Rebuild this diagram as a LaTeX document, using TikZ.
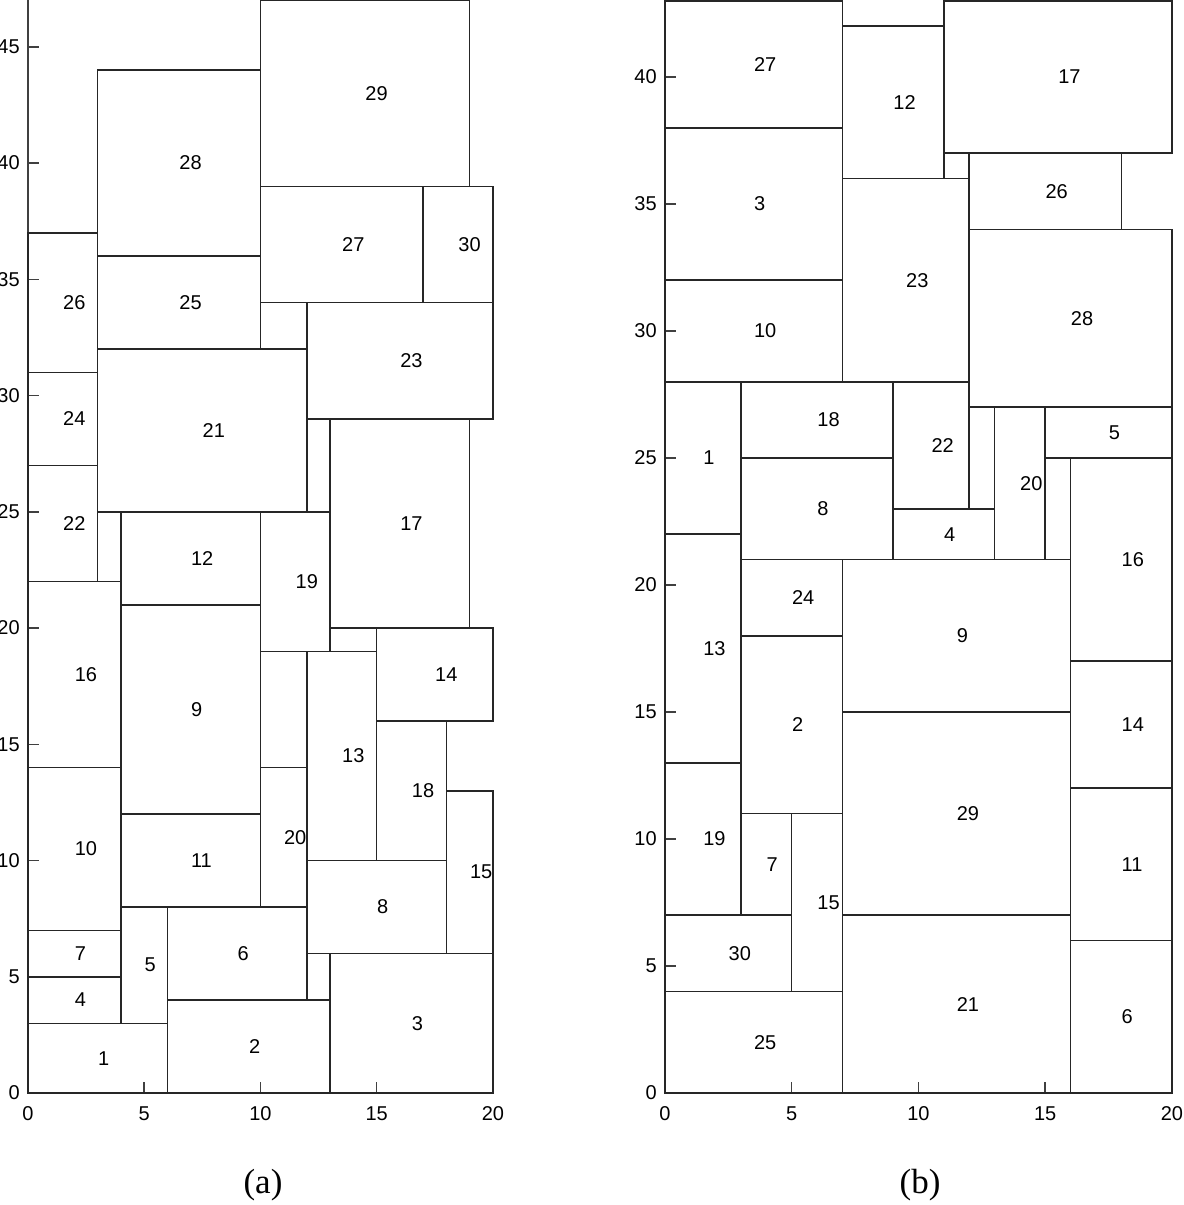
\documentclass[tikz,border=0pt]{standalone}
\usepackage{fontspec}
\setmainfont{Liberation Serif}
\setsansfont{Liberation Sans}
\begin{document}
\begin{tikzpicture}[x=0.6pt,y=0.6pt,
  box/.style={draw=black!85, line width=0.9pt},
  axisline/.style={draw=black!75, line width=0.9pt},
  lab/.style={anchor=west, inner sep=0pt, font=\sffamily\fontsize{12pt}{14pt}\selectfont},
  ytl/.style={anchor=east, inner sep=0pt, font=\sffamily\fontsize{12pt}{14pt}\selectfont},
  xtl/.style={anchor=north, inner sep=0pt, font=\sffamily\fontsize{12pt}{14pt}\selectfont},
  captext/.style={inner sep=0pt, font=\rmfamily\fontsize{21pt}{24pt}\selectfont}]
\useasboundingbox (0,0) rectangle (1183,1205);
% ---------------- panel (a)
\begin{scope}[shift={(16.8pt,67.2pt)}, x=13.95pt, y=13.95pt]
  \draw[axisline] (0,47) -- (0,0) -- (20,0);
  \foreach \v in {0,5,...,45} {
    \draw[axisline] (0,\v) -- ++(6.6pt,0);
    \node[ytl] (ay\v) at ([xshift=-4.8pt]0,\v) {\v};
  }
  \foreach \v in {0,5,...,20} {
    \draw[axisline] (\v,0) -- ++(0,6.6pt);
    \node[xtl] (ax\v) at ([yshift=-7.8pt]\v,0) {\v};
  }
  \foreach \xa/\ya/\xb/\yb/\n in {
    0/0/6/3/1, 6/0/13/4/2, 13/0/20/6/3, 0/3/4/5/4, 4/3/6/8/5, 6/4/12/8/6,
    0/5/4/7/7, 12/6/18/10/8, 4/12/10/21/9, 0/7/4/14/10, 4/8/10/12/11,
    4/21/10/25/12, 12/10/15/19/13, 15/16/20/20/14, 18/6/20/13/15,
    0/14/4/22/16, 13/20/19/29/17, 15/10/18/16/18, 10/19/13/25/19,
    10/8/12/14/20, 3/25/12/32/21, 0/22/3/27/22, 12/29/20/34/23,
    0/27/3/31/24, 3/32/10/36/25, 0/31/3/37/26, 10/34/17/39/27,
    3/36/10/44/28, 10/39/19/47/29, 17/34/20/39/30} {
    \draw[box] (\xa,\ya) rectangle (\xb,\yb);
    \node[lab] (a\n) at ({(\xa+\xb)/2},{(\ya+\yb)/2}) {\n};
  }
\end{scope}
% ---------------- panel (b)
\begin{scope}[shift={(399pt,67.2pt)}, x=15.21pt, y=15.24pt]
  \draw[axisline] (0,43) -- (0,0) -- (20,0);
  \foreach \v in {0,5,...,40} {
    \draw[axisline] (0,\v) -- ++(6.6pt,0);
    \node[ytl] (by\v) at ([xshift=-4.8pt]0,\v) {\v};
  }
  \foreach \v in {0,5,...,20} {
    \draw[axisline] (\v,0) -- ++(0,6.6pt);
    \node[xtl] (bx\v) at ([yshift=-7.8pt]\v,0) {\v};
  }
  \foreach \xa/\ya/\xb/\yb/\n in {
    0/0/7/4/25, 0/4/5/7/30, 5/4/7/11/15, 3/7/5/11/7, 0/7/3/13/19,
    0/13/3/22/13, 0/22/3/28/1, 3/11/7/18/2, 3/18/7/21/24, 7/0/16/7/21,
    7/7/16/15/29, 7/15/16/21/9, 16/0/20/6/6, 16/6/20/12/11,
    16/12/20/17/14, 16/17/20/25/16, 3/21/9/25/8, 3/25/9/28/18,
    9/21/13/23/4, 9/23/12/28/22, 13/21/15/27/20, 15/25/20/27/5,
    12/27/20/34/28, 7/28/12/36/23, 0/28/7/32/10, 0/32/7/38/3,
    0/38/7/43/27, 7/36/11/42/12, 12/34/18/37/26, 11/37/20/43/17} {
    \draw[box] (\xa,\ya) rectangle (\xb,\yb);
    \node[lab] (b\n) at ({(\xa+\xb)/2},{(\ya+\yb)/2}) {\n};
  }
\end{scope}
\node[captext] (capa) at (263,20) {(a)};
\node[captext] (capb) at (920,20) {(b)};
\end{tikzpicture}
\end{document}
